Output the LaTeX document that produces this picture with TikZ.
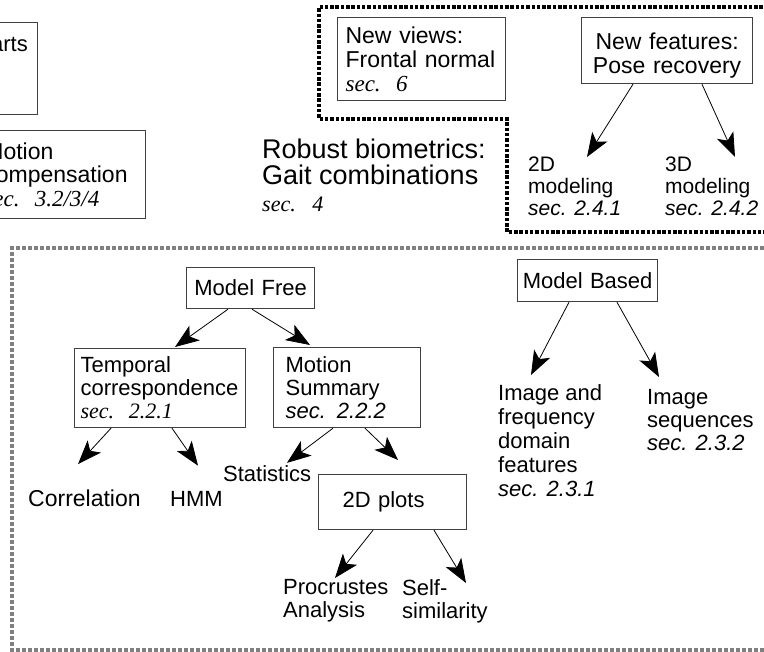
\documentclass[tikz,border=0pt]{standalone}
\usepackage{fontspec}
\setmainfont{Liberation Sans}
\newfontfamily\tms{Liberation Serif}
\usetikzlibrary{arrows.meta,positioning}

\tikzset{
	box/.style={draw=black!75, line width=1.2pt, inner ysep=0pt, align=left, font=\fontsize{22}{23}\selectfont},
	lbl/.style={inner sep=0pt, align=left, font=\fontsize{22}{23}\selectfont},
	arr/.style={line width=0.8pt, -{Stealth[length=24pt,width=18pt,inset=6pt]}},
	blackdots/.style={line width=3.5pt, dash pattern=on 3.5pt off 1.8pt},
	greydots/.style={draw=black!50, line width=3.5pt, dash pattern=on 4pt off 2pt}
}
\newcommand{\secT}[1]{{\tms\itshape sec.\ \ #1}}
\newcommand{\secH}[1]{{\itshape sec. #1}}

\begin{document}
\begin{tikzpicture}[x=1pt, y=-1pt]
					\useasboundingbox (0,0) rectangle (764,652);
					\clip (0,0) rectangle (764,652);

					\draw[blackdots] (800,7) -| (319,119) -| (507,232) -- (800,232);
					\draw[greydots] (800,248) -| (12,650) -- (800,650);

					\node[box, anchor=north east, minimum width=80pt, minimum height=92pt] (parts) at (38,22) {};
					\node[lbl, anchor=base east] (partstext) at (28,52) {arts};
					\node[box, anchor=north east, text width=144pt, inner xsep=17pt, minimum height=88pt, font=\fontsize{23}{23.5}\selectfont] (motcomp) at (146,130) {Motion\\compensation\\\secT{3.2/3/4}};

					\node[box, anchor=north west, text width=152pt, inner xsep=8pt, minimum height=83pt, font=\fontsize{23}{24}\selectfont] (newviews) at (337,17) {New views:\\Frontal normal\\\secT{6}};
					\node[box, anchor=north west, text width=159pt, inner xsep=6pt, minimum height=66pt, align=center, font=\fontsize{23}{24}\selectfont] (newfeat) at (581,17) {\rule{0pt}{27pt}New features:\\Pose recovery};
					\node[lbl, anchor=north west, font=\fontsize{21}{22}\selectfont] (twodmod) at (528,157) {2D\\modeling\\\secH{2.4.1}};
					\node[lbl, anchor=north west, font=\fontsize{21}{22}\selectfont] (threedmod) at (665,157) {3D\\modeling\\\secH{2.4.2}};
					\node[lbl, anchor=north west, font=\fontsize{27}{26.5}\selectfont] (robust) at (262,138.7) {Robust biometrics:\\Gait combinations\\{\fontsize{22}{23}\selectfont\tms\itshape sec.\hspace{0.75em}4}};

					\node[box, anchor=north west, text width=120pt, inner xsep=4pt, minimum height=41pt, align=center] (mfree) at (186,267) {Model Free};
					\node[box, anchor=north west, text width=159pt, inner xsep=6pt, minimum height=79pt] (temporal) at (74,348) {Temporal\\correspondence\\\secT{2.2.1}};
					\node[box, anchor=north west, text width=123pt, inner xsep=12pt, minimum height=80pt] (msum) at (273,347) {Motion\\Summary\\\secH{2.2.2}};
					\node[lbl, anchor=base west, font=\fontsize{23}{23}\selectfont] (corr) at (28,507) {Correlation};
					\node[lbl, anchor=base west] (hmm) at (170,507) {HMM};
					\node[lbl, anchor=base west] (stats) at (223,482) {Statistics};
					\node[box, anchor=north west, text width=100pt, inner xsep=24pt, minimum height=55pt] (plots) at (318,474) {2D plots};
					\node[lbl, anchor=north west] (procr) at (283,579) {Procrustes\\Analysis};
					\node[lbl, anchor=north west] (selfsim) at (402,579) {Self-\\similarity};

					\node[box, anchor=north west, text width=134pt, inner xsep=3pt, minimum height=42pt, align=center] (mbased) at (517,259) {Model Based};
					\node[lbl, anchor=north west, font=\fontsize{22}{24}\selectfont] (imgfreq) at (498,384) {Image and\\frequency\\domain\\features\\\secH{2.3.1}};
					\node[lbl, anchor=north west] (imgseq) at (647,389) {Image\\sequences\\\secH{2.3.2}};

					\path[arr]
						([xshift=52pt]newfeat.south west) edge ([xshift=59pt]twodmod.north west)
						([xshift=121pt]newfeat.south west) edge ([xshift=70pt]threedmod.north west)
						([xshift=42pt]mfree.south west) edge ([xshift=101pt,yshift=1pt]temporal.north west)
						([xshift=66pt]mfree.south west) edge ([xshift=37pt,yshift=2pt]msum.north west)
						([xshift=37pt]temporal.south west) edge ([xshift=50pt,yshift=26pt]corr.north west)
						([xshift=98pt]temporal.south west) edge ([xshift=28pt,yshift=26pt]hmm.north west)
						([xshift=60pt]msum.south west) edge ([xshift=64pt,yshift=3pt]stats.north west)
						([xshift=92pt]msum.south west) edge ([xshift=80pt,yshift=14pt]plots.north west)
						([xshift=55pt]plots.south west) edge ([xshift=52pt,yshift=1pt]procr.north west)
						([xshift=116pt]plots.south west) edge ([xshift=64pt,yshift=-4pt]selfsim.north west)
						([xshift=52pt]mbased.south west) edge ([xshift=33pt,yshift=9pt]imgfreq.north west)
						([xshift=100pt]mbased.south west) edge ([xshift=12pt,yshift=12pt]imgseq.north west)
					;
				\end{tikzpicture}
\end{document}
